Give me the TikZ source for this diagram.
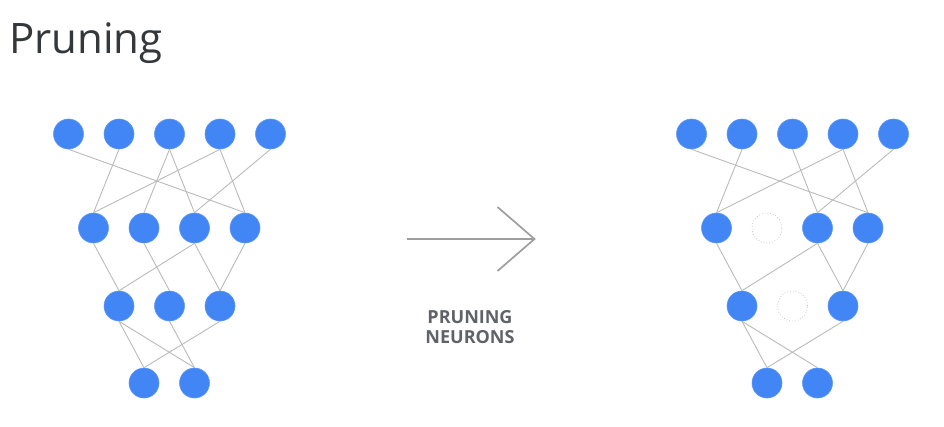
\documentclass[tikz,border=0pt]{standalone}
\usepackage{fontspec}
\setmainfont{Open Sans}
\usetikzlibrary{positioning}
\definecolor{neuronblue}{HTML}{4285F4}
\definecolor{edgegray}{HTML}{BABABA}
\definecolor{arrowgray}{HTML}{9E9E9E}
\definecolor{labelgray}{HTML}{5F6368}
\definecolor{titlegray}{HTML}{35383B}

\tikzset{
    neuron/.style={circle,fill=neuronblue,draw=neuronblue!85!white,line width=0.6pt,minimum size=30pt,inner sep=0pt},
    pruned/.style={circle,draw=gray!45,dotted,line width=0.8pt,minimum size=30pt,inner sep=0pt},
    link/.style={draw=edgegray,line width=0.9pt}
}

\begin{document}
\begin{tikzpicture}[x=1pt,y=-1pt]
    \useasboundingbox (0,0) rectangle (944,426);

    % title
    \node[anchor=base west,inner sep=0pt,text=titlegray,font=\fontsize{42}{46}\selectfont] (title) at (9,53) {Pruning};

    % left network
    \foreach \x [count=\i] in {68.5,119,169.5,220,270.5}
        \node[neuron] (l1\i) at (\x,134) {};
    \foreach \x [count=\i] in {93.5,144,194.5,245}
        \node[neuron] (l2\i) at (\x,228) {};
    \foreach \x [count=\i] in {119,169.5,220}
        \node[neuron] (l3\i) at (\x,306) {};
    \foreach \x [count=\i] in {144,194.5}
        \node[neuron] (l4\i) at (\x,383) {};

    \foreach \a/\b in {11/24,12/21,13/22,13/23,14/21,14/24,15/23,
                       21/31,22/32,23/31,23/33,24/33,
                       31/41,31/42,32/42,33/41}
        \draw[link] (l\a.south) -- (l\b.north);

    % right network (pruned)
    \foreach \x [count=\i] in {691.5,742,792.5,843,893.5}
        \node[neuron] (r1\i) at (\x,134) {};
    \node[neuron] (r21) at (716.5,228) {};
    \node[pruned] (r22) at (767,228) {};
    \node[neuron] (r23) at (817.5,228) {};
    \node[neuron] (r24) at (868,228) {};
    \node[neuron] (r31) at (742,306) {};
    \node[pruned] (r32) at (792.5,306) {};
    \node[neuron] (r33) at (843,306) {};
    \foreach \x [count=\i] in {767,817.5}
        \node[neuron] (r4\i) at (\x,383) {};

    \foreach \a/\b in {11/24,12/21,13/23,14/21,14/24,15/23,
                       21/31,23/31,23/33,24/33,
                       31/41,31/42,33/41}
        \draw[link] (r\a.south) -- (r\b.north);

    % arrow
    \coordinate (arrowtail) at (407,239);
    \coordinate (arrowtip) at (534.5,239);
    \draw[arrowgray,line width=1.7pt] (arrowtail) -- (arrowtip);
    \draw[arrowgray,line width=1.7pt,line join=miter] (arrowtip) ++(-37,-32) -- (arrowtip) -- ++(-37,32);

    \node[align=center,text=labelgray,font=\bfseries\fontsize{18}{20}\selectfont] (label) at (470,327) {PRUNING\\NEURONS};
\end{tikzpicture}
\end{document}
